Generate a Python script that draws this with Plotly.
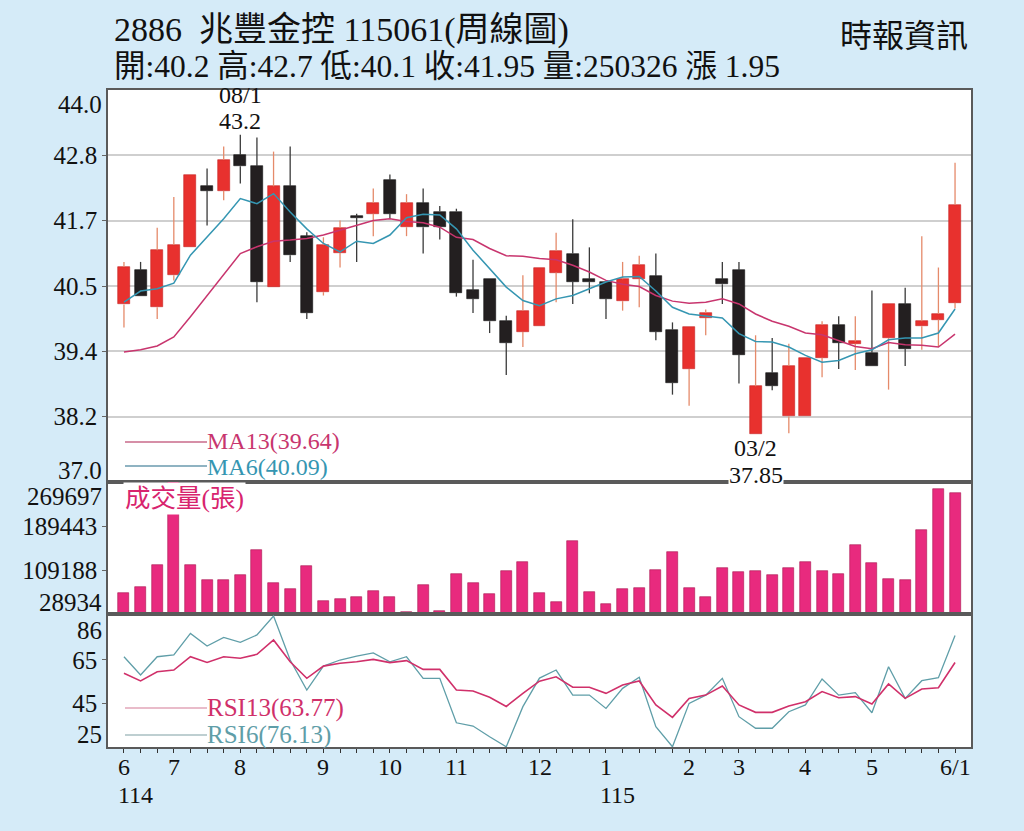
import plotly.graph_objects as go
from plotly.subplots import make_subplots

# ---------------- data ----------------
weeks = list(range(51))
opens = [40.17, 40.78, 40.12, 40.69, 41.20, 42.28, 42.20, 42.84, 42.64, 40.48,
         42.28, 41.39, 40.39, 41.09, 41.74, 41.79, 42.39, 41.55, 41.98, 41.83,
         41.83, 40.42, 40.62, 39.87, 39.68, 39.78, 40.74, 41.08, 40.62, 40.57,
         40.23, 40.63, 40.68, 39.72, 39.02, 39.93, 40.62, 40.78, 37.85, 38.95,
         38.17, 38.17, 39.22, 39.81, 39.47, 39.31, 39.57, 40.17, 39.78, 39.90, 40.20]
highs = [40.93, 40.93, 41.54, 42.09, 42.49, 42.60, 42.99, 43.20, 43.15, 42.90,
         42.99, 41.46, 41.37, 41.67, 41.79, 42.24, 42.49, 42.14, 42.24, 41.93,
         41.88, 40.97, 40.62, 39.97, 40.69, 40.83, 41.45, 41.69, 41.19, 40.57,
         40.93, 41.04, 41.08, 39.85, 39.76, 40.08, 40.93, 40.93, 39.62, 39.57,
         39.47, 39.21, 39.87, 39.96, 39.96, 40.42, 40.17, 40.47, 41.39, 40.83, 42.70]
lows = [39.76, 40.33, 39.91, 40.60, 41.20, 41.58, 42.03, 42.33, 40.21, 40.48,
        40.93, 39.91, 40.33, 40.83, 40.93, 41.39, 41.70, 41.39, 41.08, 41.33,
        40.31, 40.02, 39.66, 38.91, 39.41, 39.78, 40.21, 40.18, 40.37, 39.91,
        40.06, 40.12, 39.53, 38.56, 38.36, 39.62, 40.18, 38.76, 37.85, 38.64,
        37.87, 38.17, 38.87, 39.02, 39.00, 39.07, 38.65, 39.07, 39.36, 39.41, 40.10]
closes = [40.84, 40.33, 41.14, 41.23, 42.49, 42.20, 42.75, 42.64, 40.57, 42.28,
          41.05, 40.02, 41.23, 41.54, 41.72, 41.98, 41.79, 41.98, 41.55, 41.55,
          40.38, 40.27, 39.87, 39.48, 40.06, 40.83, 41.13, 40.58, 40.57, 40.27,
          40.62, 40.88, 39.68, 38.77, 39.76, 40.02, 40.53, 39.27, 38.71, 38.72,
          39.07, 39.21, 39.81, 39.48, 39.51, 39.07, 40.17, 39.38, 39.87, 40.00, 41.95]
volumes = [68100, 78560, 118990, 269697, 118440, 91400, 91800, 100600, 146560, 85360,
           74880, 117150, 53380, 56500, 59630, 71760, 59200, 32000, 80960, 35000,
           102450, 84630, 66250, 106680, 123950, 66980, 50440, 161820, 69920, 46760,
           74880, 76170, 109800, 142900, 77270, 59630, 112200, 106130, 106680, 100600,
           112200, 124510, 106680, 101170, 154460, 121390, 92710, 91420, 181490, 257000, 250326]
ma13 = [39.32, 39.36, 39.43, 39.59, 39.95, 40.33, 40.70, 41.08, 41.20, 41.30,
        41.32, 41.35, 41.41, 41.50, 41.58, 41.67, 41.70, 41.65, 41.63, 41.55,
        41.37, 41.33, 41.17, 41.04, 41.03, 40.99, 40.97, 40.87, 40.75, 40.60,
        40.53, 40.49, 40.33, 40.23, 40.19, 40.21, 40.27, 40.18, 40.00, 39.87,
        39.78, 39.66, 39.63, 39.53, 39.42, 39.38, 39.49, 39.45, 39.44, 39.41, 39.64]
ma6 = [40.21, 40.41, 40.45, 40.55, 41.05, 41.37, 41.70, 42.06, 41.97, 42.15,
       41.82, 41.52, 41.26, 41.11, 41.30, 41.26, 41.41, 41.72, 41.78, 41.77,
       41.52, 41.14, 40.81, 40.48, 40.24, 40.15, 40.27, 40.33, 40.45, 40.57,
       40.66, 40.67, 40.41, 40.12, 40.00, 39.96, 39.93, 39.65, 39.51, 39.50,
       39.41, 39.26, 39.14, 39.17, 39.29, 39.36, 39.54, 39.57, 39.57, 39.66, 40.09]
rsi13 = [58.8, 55.3, 59.5, 60.3, 66.4, 63.8, 66.4, 65.7, 67.5, 74.1,
         64.1, 56.5, 62.1, 63.4, 64.1, 65.2, 63.7, 64.6, 60.6, 60.6,
         51.1, 50.7, 47.8, 43.6, 49.6, 55.2, 57.2, 52.4, 52.4, 49.6,
         53.4, 55.3, 44.3, 38.6, 47.3, 48.8, 53.0, 44.3, 40.9, 40.9,
         43.8, 45.8, 50.4, 47.6, 48.1, 44.7, 53.9, 47.3, 51.6, 52.2, 63.77]
rsi6 = [66.4, 58.0, 66.4, 67.2, 77.1, 71.3, 75.3, 73.0, 76.4, 85.1,
        64.9, 51.1, 62.1, 64.9, 66.7, 68.2, 64.1, 66.4, 56.5, 56.5,
        36.1, 34.6, 29.7, 25.1, 43.5, 56.6, 60.3, 48.8, 48.8, 42.7,
        51.9, 57.0, 34.3, 25.1, 45.0, 48.8, 56.5, 38.9, 33.6, 33.6,
        41.2, 44.3, 56.2, 48.8, 49.9, 40.7, 61.8, 47.3, 55.4, 56.8, 76.13]

month_tick_pos = [0, 3, 7, 12, 16, 20, 25, 29, 34, 37, 41, 45, 50]
month_tick_text = ["6", "7", "8", "9", "10", "11", "12", "1", "2", "3", "4", "5", "6/1"]
year_labels = {0: "114", 29: "115"}

price_range = [37.0, 44.0]
price_tick_vals = [38.1667, 39.3333, 40.5, 41.6667, 42.8333]
price_tick_text = ["38.2", "39.4", "40.5", "41.7", "42.8"]
vol_range = [28934, 269697]
vol_tick_vals = [109188, 189443]
rsi_range = [25, 86]
rsi_tick_vals = [45, 65]

hi_idx, hi_label = 7, "08/1"
lo_idx, lo_label = 38, "03/2"

title1 = "2886  兆豐金控 115061(周線圖)"
title2 = "開:40.2 高:42.7 低:40.1 收:41.95 量:250326 漲 1.95"
source = "時報資訊"

# ---------------- styles ----------------
SERIF = "Liberation Serif, Noto Sans CJK TC, serif"
RED, BLACK = "#e8312e", "#231f20"
RED_WICK, BLACK_WICK = "#e58a6a", "#3a3a3a"
MA13_C, MA6_C = "#c8356e", "#3596b2"
RSI13_C, RSI6_C = "#d0306a", "#5f9ea8"
VOL_C = "#e82a7e"
BG = "#d5ebf8"

W, H = 1024, 831
L, R, T, B = 108, 971, 90, 747


def px(x):
    return (x - L) / (R - L)


def py(y):
    return (B - y) / (B - T)


fig = make_subplots(rows=3, cols=1, shared_xaxes=True, vertical_spacing=0)

# wicks (split above / below the body)
up = [c >= o for o, c in zip(opens, closes)]
wx = {True: [], False: []}
wy = {True: [], False: []}
for i, o, h, l, c, u in zip(weeks, opens, highs, lows, closes, up):
    top, bot = max(o, c), min(o, c)
    wx[u] += [i, i, None, i, i, None]
    wy[u] += [top, h, None, l, bot, None]
for u, col in ((True, RED_WICK), (False, BLACK_WICK)):
    fig.add_trace(go.Scatter(x=wx[u], y=wy[u], mode="lines",
                             line=dict(color=col, width=1.3),
                             hoverinfo="skip", showlegend=False), row=1, col=1)

# bodies
fig.add_trace(go.Bar(
    x=weeks,
    base=[min(o, c) for o, c in zip(opens, closes)],
    y=[max(abs(c - o), 0.035) for o, c in zip(opens, closes)],
    width=0.72,
    marker=dict(color=[RED if u else BLACK for u in up],
                line=dict(color=["#c42222" if u else "#111" for u in up], width=0.6)),
    showlegend=False), row=1, col=1)

fig.add_trace(go.Scatter(x=weeks, y=ma13, mode="lines", line=dict(color=MA13_C, width=1.5),
                         showlegend=False), row=1, col=1)
fig.add_trace(go.Scatter(x=weeks, y=ma6, mode="lines", line=dict(color=MA6_C, width=1.5),
                         showlegend=False), row=1, col=1)

# volume
fig.add_trace(go.Bar(x=weeks, y=volumes, width=0.66,
                     marker=dict(color=VOL_C, line=dict(color="#a8144f", width=0.6)),
                     showlegend=False), row=2, col=1)

# RSI
fig.add_trace(go.Scatter(x=weeks, y=rsi6, mode="lines", line=dict(color=RSI6_C, width=1.3),
                         showlegend=False), row=3, col=1)
fig.add_trace(go.Scatter(x=weeks, y=rsi13, mode="lines", line=dict(color=RSI13_C, width=1.6),
                         showlegend=False), row=3, col=1)

axis_line = dict(showline=True, mirror=True, linecolor="#5a5a5a", linewidth=1.5)
xr = [-0.96, 50.96]
fig.update_xaxes(range=xr, showgrid=False, zeroline=False, **axis_line)
fig.update_xaxes(showticklabels=False, ticks="", row=1, col=1)
fig.update_xaxes(showticklabels=False, ticks="", row=2, col=1)
fig.update_xaxes(tickmode="array", tickvals=weeks, showticklabels=False,
                 ticks="outside", ticklen=4, tickcolor="#333", tickwidth=1, row=3, col=1)

tickfont = dict(family=SERIF, size=25, color="#111")
fig.update_yaxes(range=price_range, tickmode="array", tickvals=price_tick_vals,
                 ticktext=price_tick_text, showgrid=True, gridcolor="#cfcfcf", gridwidth=1.5,
                 ticks="outside", ticklen=4, tickcolor="#666", zeroline=False,
                 tickfont=tickfont, domain=[py(482), 1], **axis_line, row=1, col=1)
fig.update_yaxes(range=vol_range, tickmode="array", tickvals=vol_tick_vals,
                 ticktext=[str(v) for v in vol_tick_vals], showgrid=False,
                 ticks="outside", ticklen=4, tickcolor="#666", zeroline=False,
                 tickfont=tickfont, domain=[py(614), py(482)], **axis_line, row=2, col=1)
fig.update_yaxes(range=rsi_range, tickmode="array", tickvals=rsi_tick_vals,
                 ticktext=[str(v) for v in rsi_tick_vals], showgrid=False,
                 ticks="outside", ticklen=4, tickcolor="#666", zeroline=False,
                 tickfont=tickfont, domain=[0, py(614)], **axis_line, row=3, col=1)

ann = []


def add_text(text, x, y, size, color="#111", xanchor="left", bg=None, xref="paper",
             yref="paper", yanchor="middle", pad=1):
    d = dict(text=text, x=x, y=y, xref=xref, yref=yref, xanchor=xanchor, yanchor=yanchor,
             showarrow=False, borderpad=pad, font=dict(family=SERIF, size=size, color=color))
    if bg:
        d["bgcolor"] = bg
    ann.append(d)


# header
add_text(title1, px(112), py(30), 34)
add_text(title2, px(112), py(66), 31.5)
add_text(source, px(970), py(36), 32, xanchor="right")

# edge y labels
add_text(f"{price_range[1]:.1f}", px(104), py(104), 25, xanchor="right")
add_text(f"{price_range[0]:.1f}", px(104), py(470), 25, xanchor="right")
add_text(str(vol_range[1]), px(104), py(496), 25, xanchor="right")
add_text(str(vol_range[0]), px(104), py(602), 25, xanchor="right")
add_text(str(rsi_range[1]), px(104), py(630), 25, xanchor="right")
add_text(str(rsi_range[0]), px(104), py(734), 25, xanchor="right")

# month labels, year under the first month of each year
for i, t in zip(month_tick_pos, month_tick_text):
    add_text(t, i, py(753), 24, xanchor="center", xref="x3", yanchor="top", pad=0)
    if i in year_labels:
        ann.append(dict(text=year_labels[i], x=i, xref="x3", y=py(781), yref="paper",
                        xanchor="left", yanchor="top", xshift=-7, borderpad=0,
                        showarrow=False, font=dict(family=SERIF, size=24, color="#111")))

# high / low marks
add_text(hi_label, hi_idx, py(95), 24, xanchor="center", xref="x")
add_text(f"{max(highs):.1f}", hi_idx, py(121), 24, xanchor="center", xref="x")
add_text(lo_label, lo_idx, py(448), 24, xanchor="center", xref="x")
add_text(f"{min(lows):.2f}", lo_idx, py(475), 24, xanchor="center", xref="x", bg="white", pad=0)

# legends
add_text(f"MA13({ma13[-1]:.2f})", px(206), py(441), 24, color=MA13_C, pad=0)
add_text(f"MA6({ma6[-1]:.2f})", px(206), py(467), 24, color=MA6_C, pad=0)
add_text("成交量(張)", px(123), py(498), 25.5, color="#d8246e", bg="white")
add_text(f"RSI13({rsi13[-1]:.2f})", px(206), py(708), 25, color=RSI13_C, pad=0)
add_text(f"RSI6({rsi6[-1]:.2f})", px(206), py(735), 25, color=RSI6_C, pad=0)

shapes = []
for y, col in ((442, "#c86a8a"), (466, "#6a9aae"), (708, "#e2a6b8"), (735, "#a9bfc2")):
    shapes.append(dict(type="line", xref="paper", yref="paper", x0=px(125), x1=px(207),
                       y0=py(y), y1=py(y), line=dict(color=col, width=1.3)))

fig.update_layout(
    width=W, height=H,
    margin=dict(l=L, r=W - R, t=T, b=H - B),
    paper_bgcolor=BG, plot_bgcolor="white",
    barmode="overlay", bargap=0,
    annotations=ann, shapes=shapes,
    showlegend=False,
    font=dict(family=SERIF),
)

fig.write_html("out.html")
